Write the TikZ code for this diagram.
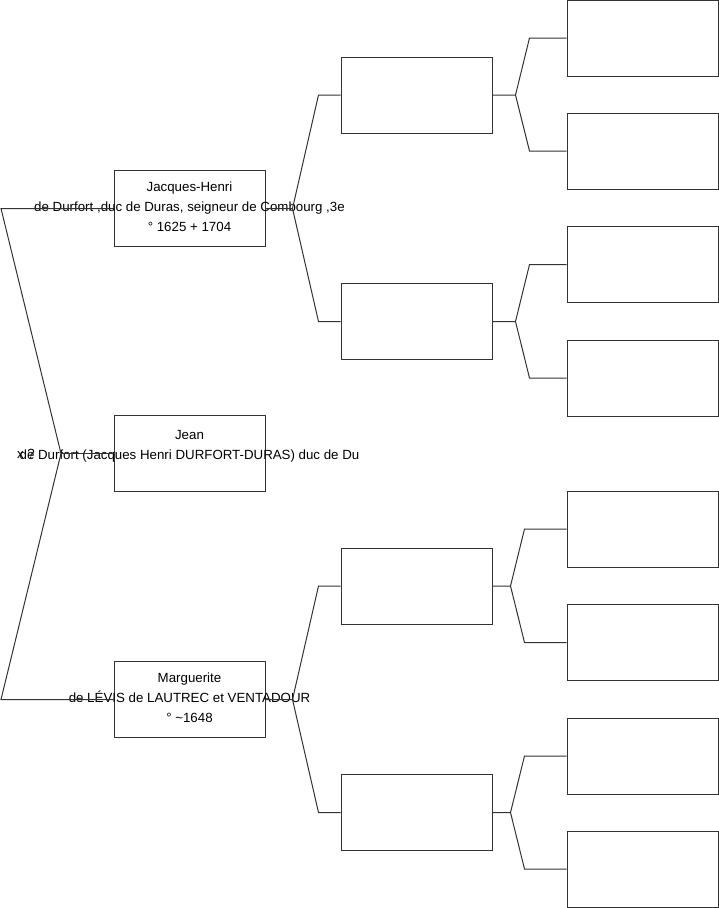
\documentclass[tikz,border=0pt]{standalone}
\usepackage{fontspec}
\setmainfont{Liberation Sans}
\usepackage{tikz}
\usetikzlibrary{positioning}

\begin{document}
\begin{tikzpicture}[x=1pt, y=-1pt,
	box/.style={draw=black!80, line width=1pt, minimum width=151pt, minimum height=76pt, inner sep=0pt},
	who/.style={align=center, inner sep=0pt, font=\fontsize{13.3}{20}\selectfont},
	link/.style={draw=black!80, line width=1pt}]
	\useasboundingbox (0,0) rectangle (719,908);
	% generation 1
	\node[box] (jh) at (189.5,208.5) {};
	\node[box] (jean) at (189.5,453.5) {};
	\node[box] (marg) at (189.5,699.5) {};
	\node[who, yshift=2pt] at (jh) {Jacques-Henri\\de Durfort ,duc de Duras, seigneur de Combourg ,3e\\° 1625 + 1704};
	\node[who, yshift=-4pt] at (jean) {Jean\\de Durfort (Jacques Henri DURFORT-DURAS) duc de Du\\\strut};
	\node[who, yshift=2pt] at (marg) {Marguerite\\de LÉVIS de LAUTREC et VENTADOUR\\° \textasciitilde1648};
	% generation 2
	\foreach \n/\y in {f1/95, f2/321.5, f3/586, f4/812.5}
		\node[box] (\n) at (416.5,\y) {};
	% generation 3
	\foreach \n/\y in {g1/38, g2/151, g3/264.5, g4/378, g5/529, g6/642.5, g7/756, g8/869}
		\node[box] (\n) at (642.5,\y) {};
	% union of the parents
	\coordinate (rj) at (61,453.5);
	\coordinate (rt) at (1,208.5);
	\coordinate (rb) at (1,699.5);
	\draw[link] (jh.west) -- (rt) -- (rj) -- (rb) -- (marg.west);
	\draw[link] (rj) -- (jean.west);
	\node[who] (wed) at (26,453.5) {x ?};
	% forks to the ancestors
	\foreach \c/\a/\b in {jh/f1/f2, marg/f3/f4}
		\draw[link] (\c.east) -- ++(27,0) coordinate (\c j) -- ([xshift=-22pt]\a.west) -- (\a.west)
			(\c j) -- ([xshift=-22pt]\b.west) -- (\b.west);
	\foreach \c/\a/\b in {f1/g1/g2, f2/g3/g4}
		\draw[link] (\c.east) -- ++(23,0) coordinate (\c j) -- ([xshift=-37pt]\a.west) -- (\a.west)
			(\c j) -- ([xshift=-37pt]\b.west) -- (\b.west);
	\foreach \c/\a/\b in {f3/g5/g6, f4/g7/g8}
		\draw[link] (\c.east) -- ++(18,0) coordinate (\c j) -- ([xshift=-42pt]\a.west) -- (\a.west)
			(\c j) -- ([xshift=-42pt]\b.west) -- (\b.west);
\end{tikzpicture}
\end{document}
